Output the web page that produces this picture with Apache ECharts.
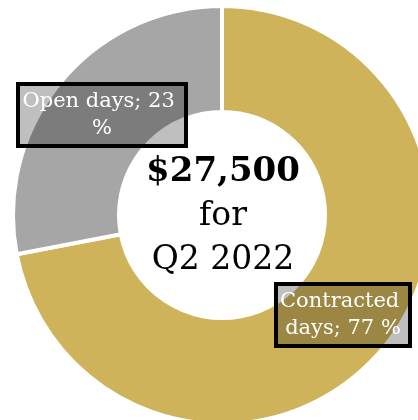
<!DOCTYPE html>
<html>
<head>
<meta charset="utf-8">
<script src="https://cdn.jsdelivr.net/npm/echarts@6/dist/echarts.min.js"></script>
<style>
  html, body { margin: 0; padding: 0; background: #fff; }
  #chart { width: 418px; height: 420px; }
</style>
</head>
<body>
<div id="chart"></div>
<script>
// data
var categories = ['Contracted days', 'Open days'];
// arc sizes as drawn in the picture
var values = [72, 28];
// percentages printed in the labels
var labelPercents = [77, 23];
var sliceColors = ['#CFB35A', '#A6A6A6'];
var centerLines = ['$27,500', 'for', 'Q2 2022'];

var chart = echarts.init(document.getElementById('chart'));

// label box widths / centres per slice
var labelWidths = [126, 160];
var labelPos = [[343, 315], [102, 115]];

var option = {
  animation: false,
  graphic: [{
    type: 'text',
    x: 223,
    y: 216,
    style: {
      text: '{a|' + centerLines[0] + '}\n{b|' + centerLines[1] + '}\n{b|' + centerLines[2] + '}',
      align: 'center',
      verticalAlign: 'middle',
      rich: {
        a: { fontFamily: 'DejaVu Serif', fontWeight: 'bold', fontSize: 34, lineHeight: 44, fill: '#000', align: 'center' },
        b: { fontFamily: 'DejaVu Serif', fontSize: 33, lineHeight: 44, fill: '#000', align: 'center' }
      }
    }
  }],
  series: [{
    type: 'pie',
    center: [222, 215],
    radius: [103, 209],
    startAngle: 90,
    clockwise: true,
    silent: true,
    itemStyle: { borderColor: '#fff', borderWidth: 4 },
    label: {
      show: true,
      position: 'inside',
      formatter: function (p) { return p.name + '; ' + labelPercents[p.dataIndex] + ' %'; },
      fontFamily: 'DejaVu Serif',
      fontSize: 21,
      lineHeight: 27,
      color: '#fff',
      align: 'center',
      overflow: 'break',
      backgroundColor: 'rgba(0,0,0,0.25)',
      borderColor: '#000',
      borderWidth: 2,
      padding: [4, 4]
    },
    labelLine: { show: false },
    labelLayout: function (params) {
      var s = labelPos[params.dataIndex];
      return { x: s[0], y: s[1], align: 'center', verticalAlign: 'middle' };
    },
    data: categories.map(function (c, i) {
      return {
        name: c,
        value: values[i],
        itemStyle: { color: sliceColors[i] },
        label: { width: labelWidths[i] }
      };
    })
  }]
};

chart.setOption(option);
</script>
</body>
</html>
